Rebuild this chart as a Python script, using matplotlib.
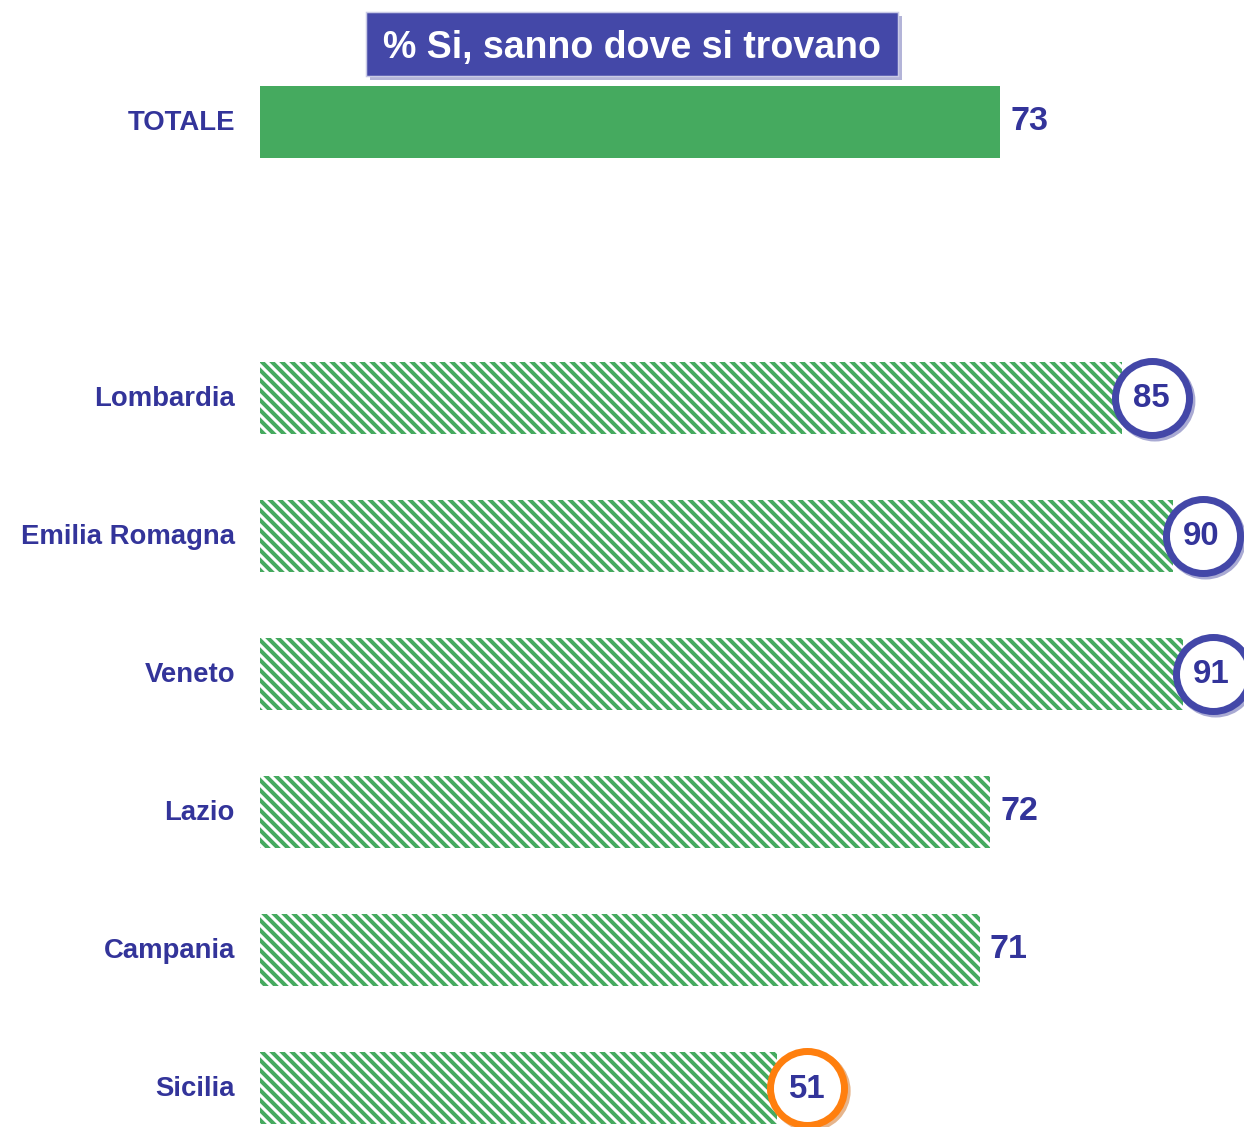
import matplotlib
matplotlib.use("Agg")
import matplotlib.pyplot as plt
from matplotlib.patches import Rectangle

categories = ["TOTALE", "Lombardia", "Emilia Romagna", "Veneto", "Lazio", "Campania", "Sicilia"]
values = [73, 85, 90, 91, 72, 71, 51]
positions = [0, 2, 3, 4, 5, 6, 7]
highlight = ["none", "blue", "blue", "blue", "none", "none", "orange"]
title = "% Si, sanno dove si trovano"

DPI = 120
W, H = 1244, 1127
PT = 72.0 / DPI  # points per pixel

plt.rcParams['font.family'] = ['Liberation Sans', 'DejaVu Sans']
plt.rcParams['hatch.linewidth'] = 4.0 * PT

GREEN = "#45AA5F"
NAVY = "#33349A"
BLUE_RING = "#4347A8"
ORANGE = "#FF7F0E"

fig = plt.figure(figsize=(W / DPI, H / DPI), dpi=DPI)
ax = fig.add_axes([0, 0, 1, 1])
ax.set_axis_off()

xscale = 10.14   # px per unit
yscale = 138.0   # px per slot
x0px, y0px = 260, 122
ax.set_xlim(-x0px / xscale, (W - x0px) / xscale)
ax.set_ylim((H - y0px) / yscale, -y0px / yscale)

bar_h = 72 / yscale
for cat, v, p, hl in zip(categories, values, positions, highlight):
    if cat == "TOTALE":
        ax.barh(p, v, height=bar_h, color=GREEN, linewidth=0, zorder=2)
    else:
        ax.barh(p, v, height=bar_h, facecolor="white", edgecolor=GREEN,
                hatch="\\\\\\\\", linewidth=0, zorder=2)
    ax.text(-25 / xscale, p + 1 / yscale, cat, ha="right", va="center", fontsize=27.5 * PT,
            fontweight="bold", color=NAVY, zorder=5)
    if hl == "none":
        ax.text(v + 10 / xscale, p, str(v), ha="left", va="center",
                fontsize=34 * PT, fontweight="bold", color=NAVY, zorder=5)
    else:
        ring = BLUE_RING if hl == "blue" else ORANGE
        shadow = "#A9AAD3" if hl == "blue" else "#E6B58C"
        cx = v + 30 / xscale
        d = 74 * PT
        ax.scatter([cx + 3 / xscale], [p + 3 / yscale], s=d ** 2, marker="o",
                   facecolors="none", edgecolors=shadow, linewidths=7 * PT, zorder=3)
        ax.scatter([cx], [p], s=d ** 2, marker="o", facecolors="white",
                   edgecolors=ring, linewidths=7 * PT, zorder=4)
        ax.text(cx - 1 / xscale, p + 1 / yscale, str(v), ha="center", va="center",
                fontsize=33 * PT, fontweight="bold", color=NAVY, zorder=5)

# Title box with shadow
bx0, by0, bx1, by1 = 366, 12, 898, 76
fig.patches.append(Rectangle(((bx0 + 4) / W, 1 - (by1 + 4) / H), (bx1 - bx0) / W, (by1 - by0) / H,
                             transform=fig.transFigure, facecolor="#B3B4D8", edgecolor="none", zorder=1))
fig.patches.append(Rectangle((bx0 / W, 1 - by1 / H), (bx1 - bx0) / W, (by1 - by0) / H,
                             transform=fig.transFigure, facecolor="#4448A8", edgecolor="#C9CAE6",
                             linewidth=1.5 * PT, zorder=2))
fig.text((bx0 + bx1) / 2 / W, 1 - 48 / H, title, ha="center", va="center",
         fontsize=37.5 * PT, fontweight="bold", color="white", zorder=3)

fig.savefig("out.png", dpi=DPI)
